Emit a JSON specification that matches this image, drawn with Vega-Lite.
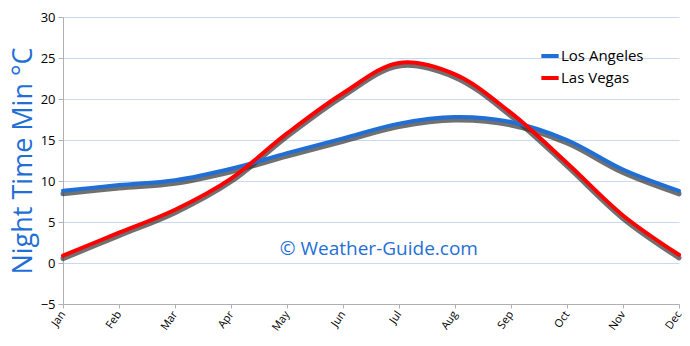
{
  "$schema": "https://vega.github.io/schema/vega-lite/v6.json",
  "autosize": "none",
  "width": 616,
  "height": 287,
  "padding": {"left": 63, "top": 17, "right": 11, "bottom": 42},
  "background": "white",
  "config": {
    "view": {"stroke": null},
    "font": "Open Sans"
  },
  "data": {
    "values": [
      {"m": 1, "city": "Los Angeles", "t": 8.8},
      {"m": 2, "city": "Los Angeles", "t": 9.5},
      {"m": 3, "city": "Los Angeles", "t": 10.1},
      {"m": 4, "city": "Los Angeles", "t": 11.5},
      {"m": 5, "city": "Los Angeles", "t": 13.4},
      {"m": 6, "city": "Los Angeles", "t": 15.2},
      {"m": 7, "city": "Los Angeles", "t": 17.0},
      {"m": 8, "city": "Los Angeles", "t": 17.8},
      {"m": 9, "city": "Los Angeles", "t": 17.2},
      {"m": 10, "city": "Los Angeles", "t": 15.0},
      {"m": 11, "city": "Los Angeles", "t": 11.4},
      {"m": 12, "city": "Los Angeles", "t": 8.8},
      {"m": 1, "city": "Las Vegas", "t": 0.9},
      {"m": 2, "city": "Las Vegas", "t": 3.7},
      {"m": 3, "city": "Las Vegas", "t": 6.5},
      {"m": 4, "city": "Las Vegas", "t": 10.3},
      {"m": 5, "city": "Las Vegas", "t": 15.8},
      {"m": 6, "city": "Las Vegas", "t": 20.7},
      {"m": 7, "city": "Las Vegas", "t": 24.4},
      {"m": 8, "city": "Las Vegas", "t": 23.0},
      {"m": 9, "city": "Las Vegas", "t": 18.3},
      {"m": 10, "city": "Las Vegas", "t": 12.2},
      {"m": 11, "city": "Las Vegas", "t": 5.8},
      {"m": 12, "city": "Las Vegas", "t": 1.0}
    ]
  },
  "layer": [
    {
      "mark": {"type": "line", "interpolate": "catmull-rom", "strokeWidth": 5, "color": "#333333", "opacity": 0.7, "yOffset": 3, "strokeCap": "round"},
      "encoding": {
        "x": {"field": "m", "type": "quantitative"},
        "y": {"field": "t", "type": "quantitative"},
        "detail": {"field": "city"}
      }
    },
    {
      "mark": {"type": "line", "interpolate": "catmull-rom", "strokeWidth": 4, "strokeCap": "round"},
      "encoding": {
        "x": {
          "field": "m", "type": "quantitative",
          "scale": {"domain": [1, 12], "nice": false, "zero": false},
          "axis": {
            "title": null,
            "values": [1,2,3,4,5,6,7,8,9,10,11,12],
            "labelExpr": "['Jan','Feb','Mar','Apr','May','Jun','Jul','Aug','Sep','Oct','Nov','Dec'][datum.value-1]",
            "labelAngle": -55,
            "labelAlign": "right",
            "labelBaseline": "middle",
            "labelFontSize": 11,
            "labelColor": "#000000",
            "labelPadding": 4,
            "grid": false,
            "domainColor": "#b0b0b0",
            "tickColor": "#b0b0b0",
            "tickSize": 4,
            "labelFlush": false,
            "labelOverlap": false
          }
        },
        "y": {
          "field": "t", "type": "quantitative",
          "scale": {"domain": [-5, 30], "nice": false},
          "axis": {
            "title": "Night Time Min °C",
            "titleFontSize": 27,
            "titleFontWeight": "normal",
            "titleColor": "#1f6fd6",
            "titlePadding": 3,
            "values": [-5, 0, 5, 10, 15, 20, 25, 30],
            "labelFontSize": 13,
            "labelColor": "#000000",
            "gridColor": "#c9daf0",
            "domainColor": "#b0b0b0",
            "tickColor": "#b0b0b0",
            "tickSize": 5,
            "labelPadding": 3
          }
        },
        "color": {
          "field": "city", "type": "nominal",
          "scale": {"domain": ["Los Angeles", "Las Vegas"], "range": ["#1f6fd6", "#ff0000"]},
          "legend": {
            "title": null,
            "orient": "none",
            "legendX": 476,
            "legendY": 28,
            "symbolType": "stroke",
            "symbolStrokeWidth": 4,
            "symbolSize": 300,
            "labelFontSize": 15,
            "labelColor": "#000000",
            "rowPadding": 3,
            "labelOffset": 0
          }
        }
      }
    },
    {
      "data": {"values": [{"m": 6.64, "t": 1.7, "label": "© Weather-Guide.com"}]},
      "mark": {"type": "text", "fontSize": 19, "color": "#1f6fd6", "align": "center", "baseline": "middle"},
      "encoding": {
        "x": {"field": "m", "type": "quantitative"},
        "y": {"field": "t", "type": "quantitative"},
        "text": {"field": "label"}
      }
    }
  ]
}
